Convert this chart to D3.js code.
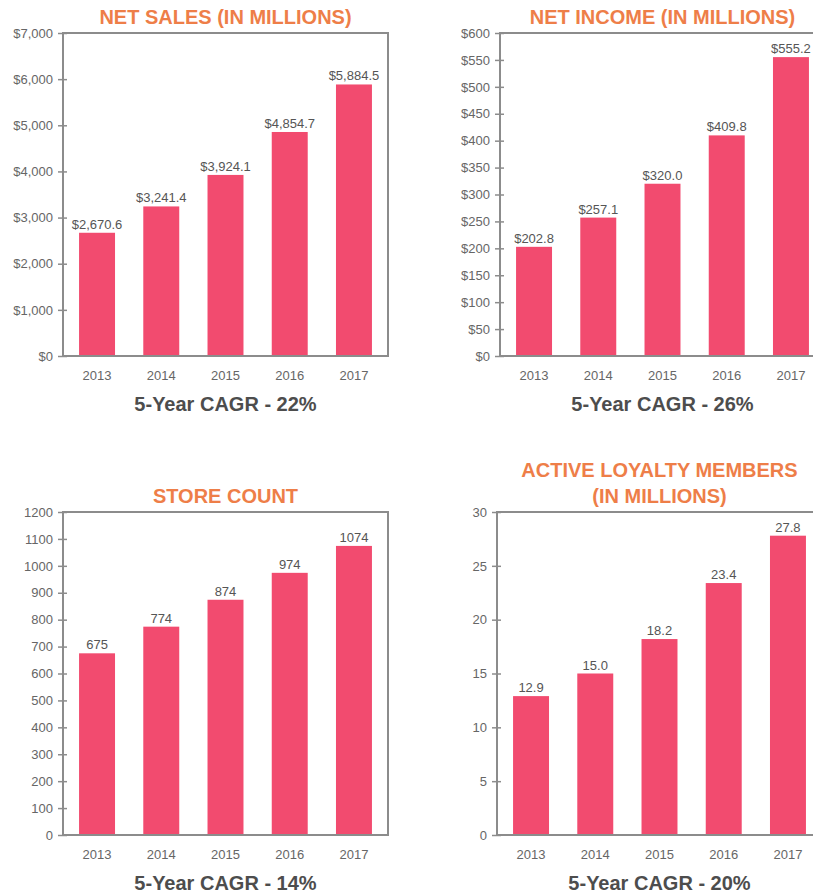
<!DOCTYPE html>
<html lang="en">
<head>
    <meta charset="UTF-8">
    <title>Five-year highlights</title>
    <script src="https://cdn.jsdelivr.net/npm/d3@7/dist/d3.min.js"></script>
    <style>
        body { margin: 0; background: #fff; }
        svg { display: block; font-family: "Liberation Sans", Arial, sans-serif; }
        .frame { fill: none; stroke: #8c8c8c; stroke-width: 2px; }
        .y-axis path { display: none; }
        .y-axis line { stroke: #8c8c8c; stroke-width: 1.5px; }
        .y-axis text { fill: #666; font-size: 13px; }
        .year { fill: #666; font-size: 13px; text-anchor: middle; }
        .value { fill: #555; font-size: 13px; text-anchor: middle; }
        .title { fill: #ee7e48; font-size: 20px; font-weight: bold; text-anchor: middle; }
        .cagr { fill: #4d4d4d; font-size: 20px; font-weight: bold; text-anchor: middle; }
    </style>
</head>
<body>
<script>
    // 数据
    const years = ['2013', '2014', '2015', '2016', '2017'];

    const netSales = [2670.6, 3241.4, 3924.1, 4854.7, 5884.5];
    const netIncome = [202.8, 257.1, 320.0, 409.8, 555.2];
    const storeCount = [675, 774, 874, 974, 1074];
    const loyaltyMembers = [12.9, 15.0, 18.2, 23.4, 27.8];

    const salesTicks = [0, 1000, 2000, 3000, 4000, 5000, 6000, 7000];
    const incomeTicks = [0, 50, 100, 150, 200, 250, 300, 350, 400, 450, 500, 550, 600];
    const storeTicks = [0, 100, 200, 300, 400, 500, 600, 700, 800, 900, 1000, 1100, 1200];
    const loyaltyTicks = [0, 5, 10, 15, 20, 25, 30];

    const titles = [
        ['NET SALES (IN MILLIONS)'],
        ['NET INCOME (IN MILLIONS)'],
        ['STORE COUNT'],
        ['ACTIVE LOYALTY MEMBERS', '(IN MILLIONS)']
    ];
    const cagrLabels = ['5-Year CAGR - 22%', '5-Year CAGR - 26%', '5-Year CAGR - 14%', '5-Year CAGR - 20%'];

    // 画布大小
    const width = 813;
    const height = 896;
    const plotW = 325;
    const plotH = 323;

    const panels = [
        { values: netSales, ticks: salesTicks, tickFmt: d3.format('$,'), valFmt: d3.format('$,.1f'), x: 63, y: 33 },
        { values: netIncome, ticks: incomeTicks, tickFmt: d3.format('$'), valFmt: d3.format('$,.1f'), x: 500, y: 33 },
        { values: storeCount, ticks: storeTicks, tickFmt: d3.format('d'), valFmt: d3.format('d'), x: 63, y: 512 },
        { values: loyaltyMembers, ticks: loyaltyTicks, tickFmt: d3.format('d'), valFmt: d3.format('.1f'), x: 497, y: 512 }
    ];
    panels.forEach((p, i) => { p.title = titles[i]; p.cagr = cagrLabels[i]; });

    const svg = d3.select('body')
        .append('svg')
        .attr('width', width)
        .attr('height', height);

    const x = d3.scaleBand()
        .domain(years)
        .range([0, plotW])
        .paddingInner(0.44)
        .paddingOuter(0.25);

    panels.forEach(p => {
        const g = svg.append('g')
            .attr('transform', 'translate(' + p.x + ',' + p.y + ')');

        const y = d3.scaleLinear()
            .domain([0, d3.max(p.ticks)])
            .range([plotH, 0]);

        // 柱子
        g.selectAll('.bar')
            .data(p.values)
            .enter()
            .append('rect')
            .attr('class', 'bar')
            .attr('x', (d, i) => x(years[i]))
            .attr('y', d => y(d))
            .attr('width', x.bandwidth())
            .attr('height', d => plotH - y(d))
            .attr('fill', '#f24b6f');

        // 边框
        g.append('rect')
            .attr('class', 'frame')
            .attr('width', plotW)
            .attr('height', plotH);

        // y轴 (刻度穿过轴线)
        const yAxis = g.append('g')
            .attr('class', 'y-axis')
            .call(d3.axisLeft(y).tickValues(p.ticks).tickFormat(p.tickFmt).tickSize(5).tickPadding(5));
        yAxis.selectAll('.tick line').attr('x2', -5).attr('x1', 4);

        // 年份
        g.selectAll('.year')
            .data(years)
            .enter()
            .append('text')
            .attr('class', 'year')
            .attr('x', d => x(d) + x.bandwidth() / 2)
            .attr('y', plotH + 24)
            .text(d => d);

        // 数值标签
        g.selectAll('.value')
            .data(p.values)
            .enter()
            .append('text')
            .attr('class', 'value')
            .attr('x', (d, i) => x(years[i]) + x.bandwidth() / 2)
            .attr('y', d => y(d) - 4)
            .text(d => p.valFmt(d));

        // 标题
        const lines = p.title;
        g.selectAll('.title')
            .data(lines)
            .enter()
            .append('text')
            .attr('class', 'title')
            .attr('x', plotW / 2)
            .attr('y', (d, i) => -9 - (lines.length - 1 - i) * 26)
            .text(d => d);

        g.append('text')
            .attr('class', 'cagr')
            .attr('x', plotW / 2)
            .attr('y', plotH + 55)
            .text(p.cagr);
    });
</script>
</body>
</html>
